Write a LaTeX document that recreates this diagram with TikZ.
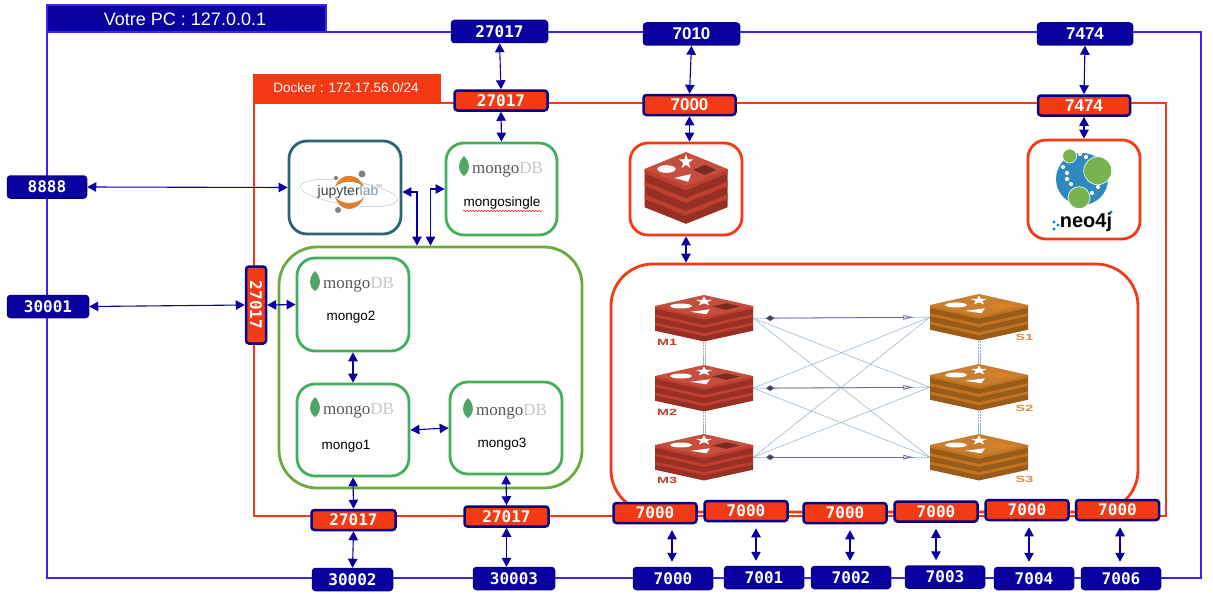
\documentclass[tikz,border=0pt]{standalone}
\usepackage{fontspec}
\setmainfont{Liberation Sans}
\setmonofont{DejaVu Sans Mono}
\newfontfamily\logoserif{Liberation Serif}
\usetikzlibrary{shapes, arrows.meta, decorations.pathmorphing}

\definecolor{hostblue}{HTML}{3E22F5}
\definecolor{portblue}{HTML}{0A00A0}
\definecolor{dockred}{HTML}{F43A14}
\definecolor{mongogreen}{HTML}{43AE5C}
\definecolor{groupgreen}{HTML}{6CAA3F}
\definecolor{jupyteal}{HTML}{2C6470}
\definecolor{jupyorange}{HTML}{E07E32}
\definecolor{neoblue}{HTML}{2F88BF}
\definecolor{neogreen}{HTML}{76B34F}
\definecolor{meshblue}{HTML}{9DB7D0}
\definecolor{masterred}{HTML}{C03E2E}
\definecolor{masterhole}{HTML}{7A2A20}
\definecolor{slaveorange}{HTML}{C4741F}
\definecolor{slavehole}{HTML}{D98222}
\definecolor{labgrey}{HTML}{7F97A8}

\tikzstyle{link} = [<->,>={Triangle[length=9pt,width=9.5pt]},color=portblue,line width=1.1pt]
\tikzstyle{portmono} = [font=\fontsize{16}{18}\selectfont\ttfamily\bfseries]
\tikzstyle{portsans} = [font=\fontsize{17}{19}\selectfont\bfseries]
\tikzstyle{hostport} = [rectangle,rounded corners=3pt,draw=portblue!85!black,fill=portblue,line width=1.5pt,text=white,inner sep=0pt,minimum height=22pt]
\tikzstyle{dockport} = [rectangle,rounded corners=3pt,draw=portblue!85!black,fill=dockred,line width=2.5pt,text=white,inner sep=0pt,minimum height=20pt]
\tikzstyle{service} = [rectangle,rounded corners=18pt,line width=2.8pt,fill=white,inner sep=0pt]
\tikzstyle{mesh} = [color=meshblue,line width=0.7pt,dash pattern=on 2.5pt off 0.6pt]
\tikzstyle{replica} = [color=gray!80!blue,line width=0.8pt,{Diamond[length=9pt,width=6pt,fill=black!75]}-{Latex[open,length=11pt,width=5pt]},shorten <=12.5pt,shorten >=15.5pt]
\tikzstyle{instname} = [font=\fontsize{13.5}{15}\selectfont,inner sep=0pt]
\tikzstyle{stacklabel} = [inner sep=0pt,xscale=1.6,transform shape,font=\fontsize{9}{9}\selectfont\bfseries]

% Redis stack: name, x, y of the top face, half width, height unit, colours
\newcommand{\redisicon}[7]{
    \node[inner sep=0pt,minimum width={2*#4},minimum height={1.69*#5}] (#1) at (#2,{#3+0.445*#5}) {};
    \begin{scope}[shift={(#2,#3)},x=#4pt,y=-#5pt]
        \foreach \k in {0.6,0.3,0}{
            \fill[#6!78!black] (-1,\k) -- (-1,\k+0.3) -- (0,\k+0.69) -- (1,\k+0.3) -- (1,\k) -- cycle;
            \fill[#6] (-1,\k) -- (-1,\k+0.1) -- (0,\k+0.5) -- (1,\k+0.1) -- (1,\k) -- cycle;
            \fill[#6!92!white] (-1,\k) -- (0,\k-0.4) -- (1,\k) -- (0,\k+0.4) -- cycle;
        }
        \fill[#7] (0.45,0.02) +(-0.28,0) -- +(0,-0.12) -- +(0.28,0) -- +(0,0.12) -- cycle;
        \fill[white] (-0.47,0) ellipse (0.22 and 0.09);
        \fill[white] (-0.28,0.21) -- (0.12,0.12) -- (0.05,0.3) -- cycle;
        \begin{scope}[shift={(0,-0.17)}]
            \fill[white] (-90:0.18) -- (-54:0.07) -- (-18:0.18) -- (18:0.07) -- (54:0.18) -- (90:0.07) -- (126:0.18) -- (162:0.07) -- (198:0.18) -- (234:0.07) -- cycle;
        \end{scope}
    \end{scope}
}

% MongoDB logo: x, y of the leaf
\newcommand{\mongologo}[2]{
    \fill[mongogreen!80!gray] (#1,#2-10) .. controls (#1+7,#2-3) and (#1+6,#2+6) .. (#1,#2+10) .. controls (#1-6,#2+6) and (#1-7,#2-3) .. (#1,#2-10) -- cycle;
    \node[anchor=base west,inner sep=0pt,text=black!65,font=\fontsize{17}{19}\logoserif] at (#1+8,#2+7.5) {mongo\textcolor{black!22}{DB}};
}

\begin{document}
\begin{tikzpicture}[x=1pt,y=-1pt]
    \useasboundingbox (0,0) rectangle (1213,594);

    % Host
    \draw[hostblue,line width=2.8pt] (47,32) rectangle (1201,578);
    \node[rectangle,draw=hostblue,fill=portblue,line width=2.8pt,inner sep=0pt,minimum width=279pt,minimum height=27pt] (hosttab) at (186.5,18.5) {};
    \node[text=white,inner sep=0pt,font=\fontsize{18}{20}\selectfont] (hostname) at (185,19) {Votre PC : 127.0.0.1};

    % Docker network
    \draw[dockred,line width=2.8pt] (254,103) rectangle (1166,516);
    \node[rectangle,fill=dockred,inner sep=0pt,minimum width=188pt,minimum height=30pt] (docktab) at (347,89) {};
    \node[text=white,inner sep=0pt,font=\fontsize{13.5}{15}\selectfont] (dockname) at (346,88) {Docker : 172.17.56.0/24};

    % Containers
    \node[service,draw=jupyteal,minimum width=112pt,minimum height=93pt] (jupyter) at (345,187.5) {};
    \node[service,draw=mongogreen,minimum width=111pt,minimum height=92pt] (single) at (501.5,189) {};
    \node[service,draw=dockred,minimum width=112pt,minimum height=92pt] (redis) at (686,189) {};
    \node[service,draw=dockred,minimum width=112pt,minimum height=99pt] (neo) at (1084,189.5) {};
    \node[service,draw=groupgreen,rounded corners=38pt,minimum width=303pt,minimum height=241pt] (rsgroup) at (430.5,367.5) {};
    \node[service,draw=dockred,rounded corners=42pt,minimum width=527pt,minimum height=248pt] (cluster) at (874.5,388) {};
    \node[service,draw=mongogreen,minimum width=112pt,minimum height=93pt] (mongotwo) at (353,304.5) {};
    \node[service,draw=mongogreen,minimum width=112pt,minimum height=92pt] (mongoone) at (353,430) {};
    \node[service,draw=mongogreen,minimum width=112pt,minimum height=92pt] (mongothree) at (506,428) {};

    % Mongo logos
    \mongologo{464}{166}
    \mongologo{315}{281}
    \mongologo{315}{407}
    \mongologo{468}{408}
    \node[instname] (singlename) at (502,203.5) {mongosingle};
    \node[instname] (twoname) at (351,317) {mongo2};
    \node[instname] (onename) at (346,446) {mongo1};
    \node[instname] (threename) at (502,444) {mongo3};
    \draw[red,line width=0.5pt,decorate,decoration={snake,amplitude=0.6pt,segment length=3pt}] (463,211) -- (542,211);

    % Jupyter logo
    \draw[gray!45,line width=0.5pt,rotate around={-8:(349,193)}] (349,193) ellipse (49 and 12);
    \fill[jupyorange] (335,187) .. controls (340,172) and (358,172) .. (364,187) .. controls (357,180) and (342,180) .. (335,187) -- cycle;
    \fill[jupyorange] (335,197) .. controls (340,213) and (358,213) .. (364,197) .. controls (357,205) and (342,205) .. (335,197) -- cycle;
    \fill[gray] (362,174) circle (3.5);
    \fill[gray] (336,178) circle (2);
    \fill[gray] (338,210) circle (3);
    \node[anchor=base,inner sep=0pt,text=black!75,font=\fontsize{14}{16}\selectfont] (jupyname) at (348,195) {jupyter\textcolor{labgrey}{lab}};
    \node[inner sep=0pt,text=gray,font=\fontsize{4}{4}\selectfont] (jupytm) at (379,186) {TM};

    % Neo4j logo
    \fill[neoblue] (1082,179) circle (26);
    \foreach \px/\py in {1080/154,1086/157,1063/167,1067/173,1067/179,1071/184,1092/193,1098/187}{
        \fill[white] (\px,\py) circle (2.1);
    }
    \fill[neogreen,draw=white,line width=0.6pt] (1097.7,170.7) circle (14);
    \fill[neogreen,draw=white,line width=0.6pt] (1069.6,156) circle (7);
    \fill[neogreen,draw=white,line width=0.6pt] (1079,197.7) circle (11);
    \node[anchor=base,inner sep=0pt,font=\fontsize{20}{22}\selectfont\bfseries] (neoname) at (1086,227) {neo4j};
    \foreach \px/\py in {1054/222,1058/225,1054/229,1111/212}{
        \fill[blue!50!cyan] (\px,\py) circle (1.6);
    }

    % Redis logos
    \redisicon{redislogo}{686}{169}{41.5}{42.5}{masterred}{masterhole}
    \redisicon{M1}{704}{306}{49}{27.5}{masterred}{masterhole}
    \redisicon{M2}{704}{376}{49}{27.5}{masterred}{masterhole}
    \redisicon{M3}{704}{445}{49}{27.5}{masterred}{masterhole}
    \redisicon{S1}{979}{305}{49}{27.5}{slaveorange}{slavehole}
    \redisicon{S2}{979}{375}{49}{27.5}{slaveorange}{slavehole}
    \redisicon{S3}{979}{445}{49}{27.5}{slaveorange}{slavehole}

    % Redis cluster links
    \foreach \a in {1,2,3}{
        \foreach \b in {1,2,3}{
            \draw[mesh] (M\a.east) -- (S\b.west);
        }
        \draw[replica] (M\a.east) -- (S\a.west);
    }
    \foreach \a/\b in {1/2,2/3}{
        \foreach \dx in {-1pt,1pt}{
            \draw[mesh] ([xshift=\dx]M\a.south) -- ([xshift=\dx]M\b.north);
            \draw[mesh] ([xshift=\dx]S\a.south) -- ([xshift=\dx]S\b.north);
        }
    }
    \foreach \n/\px/\py in {M1/667/342,M2/667/412,M3/667/480}{
        \node[stacklabel,text=masterred] (label\n) at (\px,\py) {\n};
    }
    \foreach \n/\px/\py in {S1/1024.5/337,S2/1024.5/408,S3/1024.5/479}{
        \node[stacklabel,text=slaveorange!80!white] (label\n) at (\px,\py) {\n};
    }

    % Host ports
    \node[hostport,portmono,minimum width=96pt] (hmongo) at (499.5,31.5) {27017};
    \node[hostport,portsans,minimum width=96pt] (hredis) at (691.5,34) {7010};
    \node[hostport,portsans,minimum width=95pt] (hneo) at (1085,34) {7474};
    \node[hostport,portmono,minimum width=79pt] (hjup) at (47,187) {8888};
    \node[hostport,portmono,minimum width=81pt] (hprim) at (48,306.5) {30001};
    \node[hostport,portmono,minimum width=80pt] (hone) at (352.5,579.5) {30002};
    \node[hostport,portmono,minimum width=81pt] (hthree) at (514,578.5) {30003};

    % Docker ports
    \node[dockport,portmono,minimum width=93pt] (dmongo) at (501,100.5) {27017};
    \node[dockport,portsans,minimum width=92pt] (dredis) at (689.5,105) {7000};
    \node[dockport,portsans,minimum width=92pt] (dneo) at (1084,105.5) {7474};
    \node[dockport,portmono,rotate=-90,minimum width=77pt] (dprim) at (256,305) {27017};
    \node[dockport,portmono,minimum width=84pt] (done) at (353.5,520) {27017};
    \node[dockport,portmono,minimum width=84pt] (dthree) at (506.5,516.5) {27017};

    % Cluster ports
    \foreach \i/\rx/\ry/\bx/\by/\lbl/\ax in {1/655/513/673/578.5/7000/672,2/746/511/764/577.5/7001/756,3/845/513/851/577.5/7002/850,4/936/511.5/945/577/7003/936,5/1027/510/1034/578.5/7004/1029,6/1117.5/510/1121/578.5/7006/1120}{
        \node[dockport,portmono,minimum width=83pt] (cp\i) at (\rx,\ry) {7000};
        \node[hostport,portmono,minimum width=79pt] (hp\i) at (\bx,\by) {\lbl};
        \coordinate (cl\i) at (\ax,545);
        \draw[link,shorten <=6pt,shorten >=5pt] (cl\i |- cp\i.south) -- (cl\i |- hp\i.north);
    }

    % Links
    \draw[link] (hmongo.south) -- (dmongo.north);
    \draw[link] (dmongo.south) -- (single.north);
    \draw[link] (hredis.south) -- (dredis.north);
    \draw[link] (dredis.south) -- (dredis.south |- redis.north);
    \draw[link] (hneo.south) -- (dneo.north);
    \draw[link] (dneo.south) -- (neo.north);
    \draw[link] (redis.south) -- (redis.south |- cluster.north);
    \draw[link] (hjup.east) -- (jupyter.west);
    \draw[link] (hprim.east) -- (dprim.south);
    \draw[link] (dprim.north) -- (mongotwo.west);
    \draw[link] ([yshift=-4.5pt]jupyter.east) -| ([xshift=-13.5pt]rsgroup.north);
    \draw[link] (single.west) -| (rsgroup.north);
    \draw[link] (mongotwo.south) -- (mongoone.north);
    \draw[link] (mongoone.east) -- (mongothree.west);
    \draw[link] (mongoone.south) -- (done.north);
    \draw[link] (mongothree.south) -- (dthree.north);
    \draw[link] (done.south) -- (hone.north);
    \draw[link] (dthree.south) -- (dthree.south |- hthree.north);
\end{tikzpicture}
\end{document}
